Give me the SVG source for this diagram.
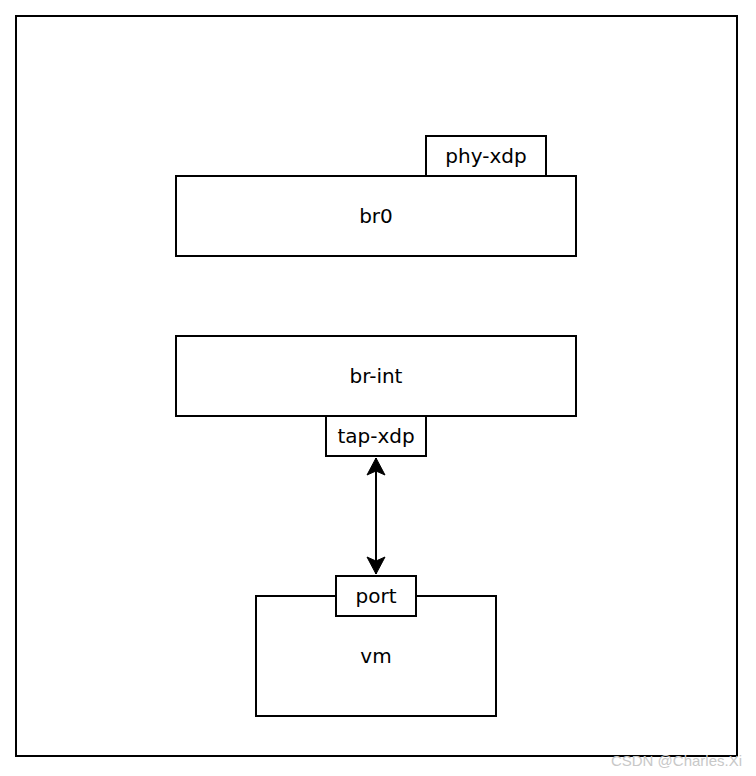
<svg xmlns="http://www.w3.org/2000/svg" width="756" height="776" viewBox="0 0 756 776">
<style>
.box{fill:#fff;stroke:#000;stroke-width:2}
.lbl{font-family:"DejaVu Sans","Liberation Sans",Arial,sans-serif;font-size:20px;fill:#000;text-anchor:middle}
.wm{font-family:"Liberation Sans",Arial,sans-serif;font-size:15px;fill:#c8c8c8;text-anchor:end}
</style>
<defs>
<marker id="arr" viewBox="0 0 20 20" refX="18" refY="10" markerWidth="20" markerHeight="20" markerUnits="userSpaceOnUse" orient="auto-start-reverse">
<path d="M18,10 L1,1 L5,10 L1,19 Z" fill="#000" stroke="#000" stroke-width="1"/>
</marker>
</defs>
<rect width="756" height="776" fill="#fff"/>
<g id="frame"><rect class="box" x="16" y="16" width="721" height="740"/></g>
<g id="br0"><rect class="box" x="176" y="176" width="400" height="80"/><text class="lbl" x="376" y="223">br0</text></g>
<g id="phy-xdp"><rect class="box" x="426" y="136" width="120" height="40"/><text class="lbl" x="486" y="163">phy-xdp</text></g>
<g id="br-int"><rect class="box" x="176" y="336" width="400" height="80"/><text class="lbl" x="376" y="383">br-int</text></g>
<g id="tap-xdp"><rect class="box" x="326" y="416" width="100" height="40"/><text class="lbl" x="376" y="443">tap-xdp</text></g>
<g id="vm"><rect class="box" x="256" y="596" width="240" height="120"/><text class="lbl" x="376" y="663">vm</text></g>
<g id="port"><rect class="box" x="336" y="576" width="80" height="40"/><text class="lbl" x="376" y="603">port</text></g>
<g id="connectors"><line x1="376" y1="458" x2="376" y2="574" stroke="#000" stroke-width="2" marker-start="url(#arr)" marker-end="url(#arr)"/></g>
<text class="wm" x="742" y="766">CSDN @Charles.Xi</text>
</svg>
